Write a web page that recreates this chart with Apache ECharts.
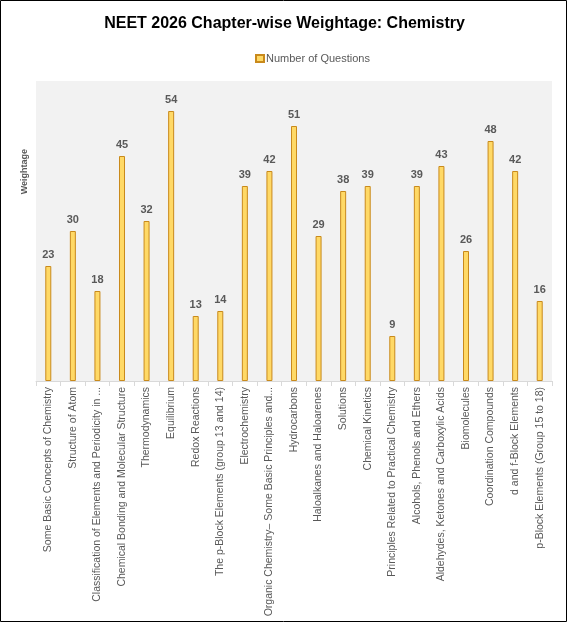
<!DOCTYPE html>
<html>
<head>
<meta charset="utf-8">
<script src="https://cdn.jsdelivr.net/npm/echarts@6/dist/echarts.min.js"></script>
<style>
html,body{margin:0;padding:0;background:#fff;}
#chart{width:569px;height:623px;}
</style>
</head>
<body>
<div id="chart"></div>
<script>
var chapters = [
  "Some Basic Concepts of Chemistry",
  "Structure of Atom",
  "Classification of Elements and Periodicity in ...",
  "Chemical Bonding and Molecular Structure",
  "Thermodynamics",
  "Equilibrium",
  "Redox Reactions",
  "The p-Block Elements (group 13 and 14)",
  "Electrochemistry",
  "Organic Chemistry– Some Basic Principles and...",
  "Hydrocarbons",
  "Haloalkanes and Haloarenes",
  "Solutions",
  "Chemical Kinetics",
  "Principles Related to Practical Chemistry",
  "Alcohols, Phenols and Ethers",
  "Aldehydes, Ketones and Carboxylic Acids",
  "Biomolecules",
  "Coordination Compounds",
  "d and f-Block Elements",
  "p-Block Elements (Group 15 to 18)"
];
var questions = [23, 30, 18, 45, 32, 54, 13, 14, 39, 42, 51, 29, 38, 39, 9, 39, 43, 26, 48, 42, 16];
var seriesName = "Number of Questions";
var chartTitle = "NEET 2026 Chapter-wise Weightage: Chemistry";
var yTitle = "Weightage";

var font = "'Liberation Sans', Arial, sans-serif";
var chart = echarts.init(document.getElementById('chart'));
chart.setOption({
  animation: false,
  textStyle: {fontFamily: font},
  title: {
    text: chartTitle,
    left: 'center',
    top: 11,
    textStyle: {fontFamily: font, fontSize: 16, fontWeight: 'bold', color: '#000'}
  },
  legend: {
    data: [seriesName],
    top: 48,
    left: 250,
    itemWidth: 8,
    itemHeight: 7,
    itemGap: 4,
    icon: 'rect',
    textStyle: {fontFamily: font, fontSize: 11, color: '#595959', padding: [0,0,0,-3]}
  },
  grid: {
    left: 36, right: 17, top: 81, bottom: 242,
    show: true, backgroundColor: '#f2f2f2', borderWidth: 0
  },
  xAxis: {
    type: 'category',
    data: chapters,
    axisLine: {lineStyle: {color: '#d9d9d9', width: 1}},
    axisTick: {show: true, length: 5, lineStyle: {color: '#d9d9d9'}},
    axisLabel: {rotate: 90, interval: 0, fontSize: 10.5, color: '#595959', margin: 6, fontFamily: font}
  },
  yAxis: {
    type: 'value', min: 0, max: 60,
    show: false,
    splitLine: {show: false}
  },
  graphic: [
    {type: 'text', left: 20, top: 149, rotation: Math.PI/2,
     style: {text: yTitle, font: 'bold 9px ' + font, fill: '#595959'}},
    {type: 'rect', shape: {x: 0.5, y: 0.5, width: 566, height: 621},
     style: {fill: 'none', stroke: '#000', lineWidth: 1}, silent: true}
  ],
  series: [{
    name: seriesName,
    type: 'bar',
    data: questions,
    barWidth: 6,
    itemStyle: {color: '#ffd966', borderColor: '#c98a1c', borderWidth: 1},
    label: {show: true, position: 'top', distance: 6, fontSize: 11, fontWeight: 'bold', color: '#595959', fontFamily: font}
  }]
});
</script>
</body>
</html>
